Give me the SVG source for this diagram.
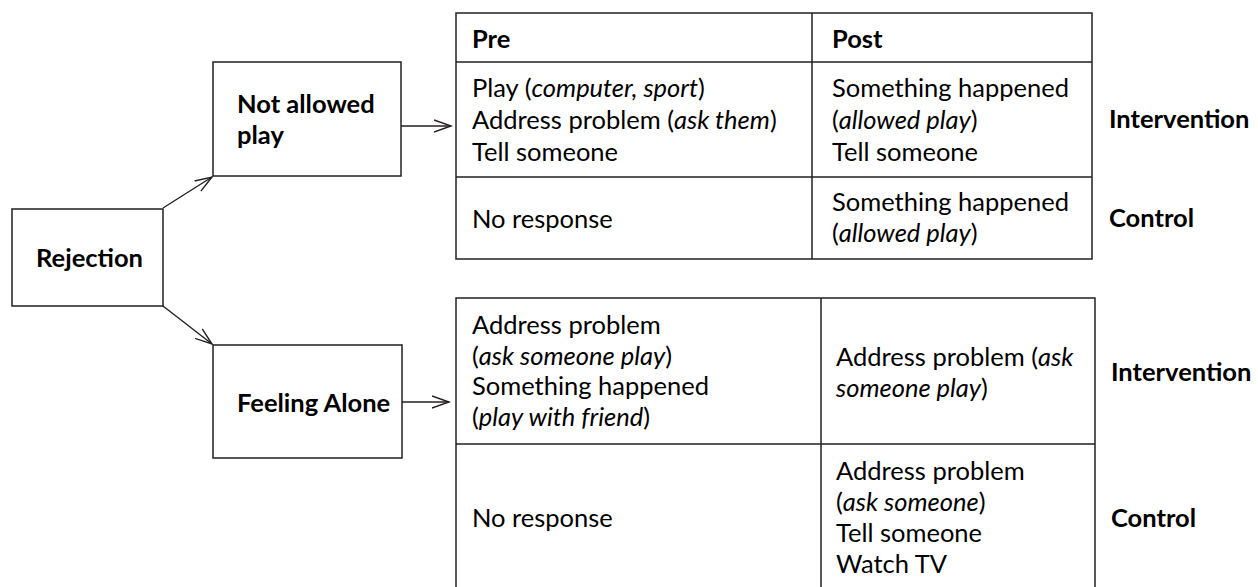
<svg xmlns="http://www.w3.org/2000/svg" width="1258" height="587" viewBox="0 0 1258 587">
  <defs>
    <marker id="arrow" markerWidth="20" markerHeight="14" refX="17" refY="7" orient="auto" markerUnits="userSpaceOnUse">
      <path d="M0,1 L17,7 L0,13" fill="none" stroke="#231f20" stroke-width="1.4"/>
    </marker>
    <style>
      .box { fill: #fff; stroke: #231f20; stroke-width: 1.5; }
      .grid { fill: none; stroke: #231f20; stroke-width: 1.5; }
      .conn { fill: none; stroke: #231f20; stroke-width: 1.4; marker-end: url(#arrow); }
      text { font-family: Lato, "Liberation Sans", sans-serif; font-size: 25.5px; fill: #000; }
      .b { font-weight: 700; }
      .i { font-style: italic; }
    </style>
  </defs>

  <rect width="1258" height="587" fill="#fff"/>

  <!-- connectors -->
  <g id="connectors">
    <line class="conn" x1="163" y1="208" x2="212" y2="177"/>
    <line class="conn" x1="163" y1="306" x2="212" y2="344"/>
    <line class="conn" x1="401" y1="126" x2="451" y2="126"/>
    <line class="conn" x1="401" y1="402" x2="449" y2="402"/>
  </g>

  <!-- root node -->
  <g id="rejection">
    <rect class="box" x="12" y="209" width="151" height="97"/>
    <text class="b" x="36" y="267">Rejection</text>
  </g>

  <!-- first branch -->
  <g id="not-allowed-play">
    <rect class="box" x="213" y="62" width="188" height="114"/>
    <text class="b" x="237" y="113">Not allowed</text>
    <text class="b" x="237" y="144">play</text>
  </g>

  <!-- second branch -->
  <g id="feeling-alone">
    <rect class="box" x="213" y="345" width="189" height="113"/>
    <text class="b" x="237" y="412">Feeling Alone</text>
  </g>

  <!-- pre/post table for "Not allowed play" -->
  <g id="table-not-allowed">
    <rect class="grid" x="456" y="13" width="636" height="246"/>
    <line class="grid" x1="812" y1="13" x2="812" y2="259"/>
    <line class="grid" x1="456" y1="62" x2="1092" y2="62"/>
    <line class="grid" x1="456" y1="177" x2="1092" y2="177"/>
    <text class="b" x="472" y="48">Pre</text>
    <text class="b" x="832" y="48">Post</text>
    <text x="472" y="97">Play (<tspan class="i">computer, sport</tspan>)</text>
    <text x="472" y="129">Address problem (<tspan class="i">ask them</tspan>)</text>
    <text x="472" y="161">Tell someone</text>
    <text x="832" y="97">Something happened</text>
    <text x="832" y="129">(<tspan class="i">allowed play</tspan>)</text>
    <text x="832" y="161">Tell someone</text>
    <text x="472" y="228">No response</text>
    <text x="832" y="211">Something happened</text>
    <text x="832" y="242">(<tspan class="i">allowed play</tspan>)</text>
  </g>
  <g id="labels-not-allowed">
    <text class="b" x="1109" y="128">Intervention</text>
    <text class="b" x="1109" y="227">Control</text>
  </g>

  <!-- pre/post table for "Feeling Alone" -->
  <g id="table-feeling-alone">
    <rect class="grid" x="456" y="298" width="639" height="294"/>
    <line class="grid" x1="821" y1="298" x2="821" y2="592"/>
    <line class="grid" x1="456" y1="444" x2="1095" y2="444"/>
    <text x="472" y="334">Address problem</text>
    <text x="472" y="365">(<tspan class="i">ask someone play</tspan>)</text>
    <text x="472" y="395">Something happened</text>
    <text x="472" y="426">(<tspan class="i">play with friend</tspan>)</text>
    <text x="836" y="366">Address problem (<tspan class="i">ask</tspan></text>
    <text x="836" y="397"><tspan class="i">someone play</tspan>)</text>
    <text x="472" y="527">No response</text>
    <text x="836" y="480">Address problem</text>
    <text x="836" y="511">(<tspan class="i">ask someone</tspan>)</text>
    <text x="836" y="542">Tell someone</text>
    <text x="836" y="573">Watch TV</text>
  </g>
  <g id="labels-feeling-alone">
    <text class="b" x="1111" y="381">Intervention</text>
    <text class="b" x="1111" y="527">Control</text>
  </g>
</svg>
